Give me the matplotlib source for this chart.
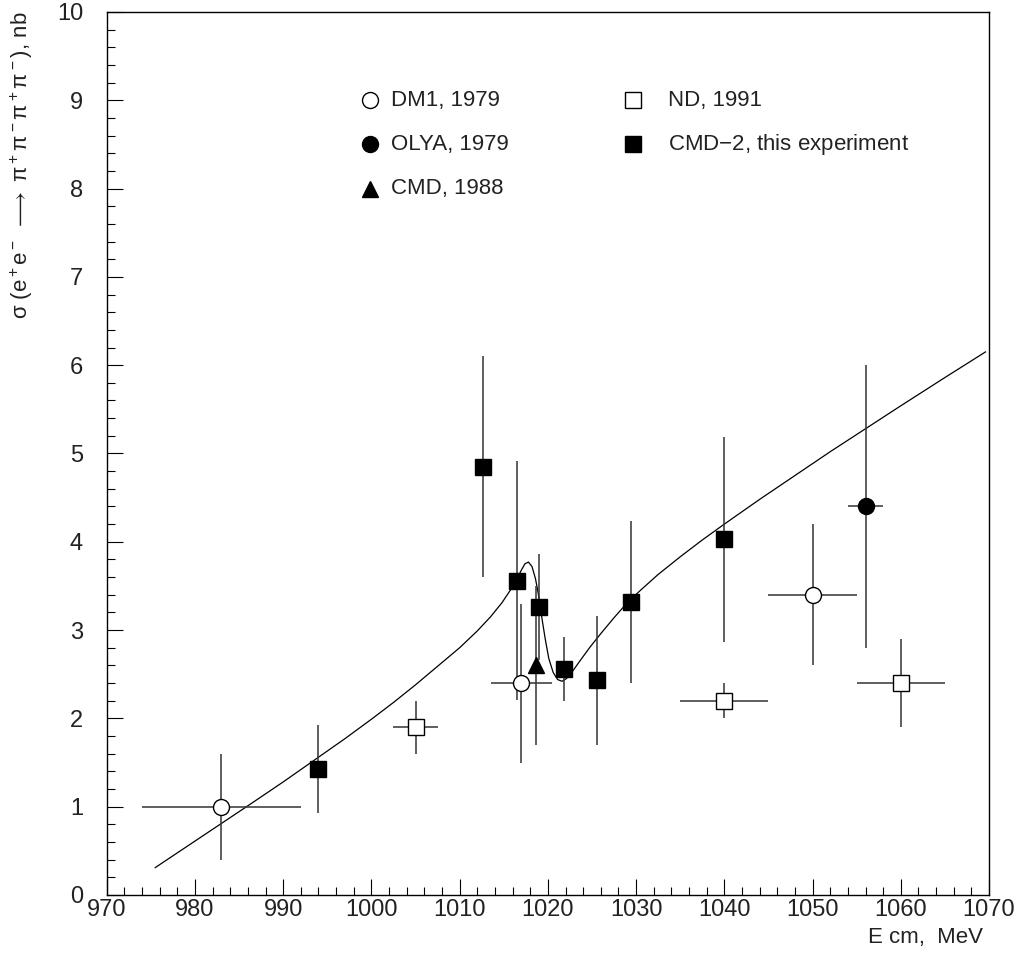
import matplotlib
matplotlib.use('Agg')
import matplotlib.pyplot as plt
import numpy as np
from matplotlib.ticker import MultipleLocator

plt.rcParams['font.family'] = ['Liberation Sans', 'DejaVu Sans']
plt.rcParams['mathtext.fontset'] = 'custom'
plt.rcParams['mathtext.rm'] = 'Liberation Sans'
plt.rcParams['mathtext.it'] = 'Liberation Sans'
plt.rcParams['mathtext.sf'] = 'Liberation Sans'

# DM1, 1979
dm1_E = [983, 1017, 1050]
dm1_sig = [1.0, 2.4, 3.4]
dm1_dE = [9, 3.5, 5]
dm1_dsig = [0.6, 0.9, 0.8]

# OLYA, 1979
olya_E = [1056]
olya_sig = [4.4]
olya_dE = [2]
olya_dsig = [1.6]

# CMD, 1988
cmd_E = [1018.6]
cmd_sig = [2.6]
cmd_dsig = [0.9]

# ND, 1991
nd_E = [1005, 1040, 1060]
nd_sig = [1.9, 2.2, 2.4]
nd_dE = [2.5, 5, 5]
nd_dsig = [0.3, 0.2, 0.5]

# CMD-2
cmd2_E = [994.0, 1012.65, 1016.5, 1019.0, 1021.8, 1025.6, 1029.4, 1040.0]
cmd2_sig = [1.43, 4.85, 3.56, 3.26, 2.56, 2.43, 3.32, 4.03]
cmd2_dsig = [0.5, 1.25, 1.35, 0.6, 0.36, 0.73, 0.92, 1.16]

# fit curve
fit_E = [975.5, 980, 983, 986, 990, 994, 997, 1000, 1002.5, 1005, 1007.5,
         1010, 1012, 1013.5, 1014.8, 1015.8, 1016.5, 1017.0, 1017.4, 1017.8,
         1018.2, 1018.6, 1018.9, 1019.3, 1019.7, 1020.1, 1020.6, 1021.1,
         1021.6, 1022.1, 1022.7, 1023.7, 1024.8, 1026, 1027.5, 1029, 1030.6,
         1032.5, 1035, 1037.5, 1040, 1044, 1048, 1052, 1056, 1060, 1065, 1069.6]
fit_sig = [0.31, 0.61, 0.81, 1.01, 1.28, 1.56, 1.77, 1.99, 2.18, 2.38, 2.59,
           2.80, 2.99, 3.15, 3.31, 3.46, 3.58, 3.68, 3.75, 3.77,
           3.72, 3.58, 3.42, 3.15, 2.90, 2.68, 2.52, 2.44,
           2.42, 2.45, 2.52, 2.66, 2.81, 2.96, 3.14, 3.31, 3.46,
           3.63, 3.83, 4.02, 4.20, 4.48, 4.75, 5.02, 5.28, 5.54, 5.86, 6.15]

fig = plt.figure(figsize=(10.23, 9.64), dpi=100)
ax = fig.add_axes([0.1043, 0.0716, 0.8625, 0.916])

ebar = dict(fmt='none', ecolor='#333333', elinewidth=1.1, capsize=0, zorder=2)
ms = 11.5

ax.plot(fit_E, fit_sig, color='black', lw=0.9, zorder=1)

ax.errorbar(dm1_E, dm1_sig, xerr=dm1_dE, yerr=dm1_dsig, **ebar)
ax.errorbar(olya_E, olya_sig, xerr=olya_dE, yerr=olya_dsig, **ebar)
ax.errorbar(cmd_E, cmd_sig, yerr=cmd_dsig, **ebar)
ax.errorbar(nd_E, nd_sig, xerr=nd_dE, yerr=nd_dsig, **ebar)
ax.errorbar(cmd2_E, cmd2_sig, yerr=cmd2_dsig, **ebar)

ax.plot(dm1_E, dm1_sig, 'o', ms=ms, mfc='white', mec='black', mew=1.0, zorder=3)
ax.plot(olya_E, olya_sig, 'o', ms=ms, mfc='black', mec='black', zorder=3)
ax.plot(cmd_E, cmd_sig, '^', ms=ms, mfc='black', mec='black', zorder=3)
ax.plot(nd_E, nd_sig, 's', ms=ms, mfc='white', mec='black', mew=1.0, zorder=3)
ax.plot(cmd2_E, cmd2_sig, 's', ms=ms, mfc='black', mec='black', zorder=3)

# legend drawn by hand, two columns
leg = [(999.8, 9.0, 'o', 'white', 'DM1, 1979'),
       (999.8, 8.5, 'o', 'black', 'OLYA, 1979'),
       (999.8, 8.0, '^', 'black', 'CMD, 1988'),
       (1029.6, 9.0, 's', 'white', 'ND, 1991'),
       (1029.6, 8.5, 's', 'black', 'CMD$-$2, this experiment')]
for xm, ym, m, fc, txt in leg:
    ax.plot([xm], [ym], m, ms=11.5, mfc=fc, mec='black', mew=1.0)
    ax.text(xm + 2.4 if xm < 1010 else xm + 4.0, ym, txt, fontsize=16,
            va='center', ha='left', color='#222222')

ax.set_xlim(970, 1070)
ax.set_ylim(0, 10)
ax.xaxis.set_major_locator(MultipleLocator(10))
ax.xaxis.set_minor_locator(MultipleLocator(2))
ax.yaxis.set_major_locator(MultipleLocator(1))
ax.yaxis.set_minor_locator(MultipleLocator(0.2))
ax.tick_params(which='both', direction='in', top=False, right=False, width=0.8,
               labelsize=17, labelcolor='#222222')
ax.tick_params(which='major', length=11.5)
ax.tick_params(which='minor', length=5.8)
ax.tick_params(axis='x', pad=3)
ax.tick_params(axis='y', pad=17)
for s in ax.spines.values():
    s.set_linewidth(1.0)

ax.text(-0.096, 1.0, r'$\sigma$ (e$^+$e$^-$ $\longrightarrow$ $\pi^+\pi^-\pi^+\pi^-$), nb',
        transform=ax.transAxes, rotation=90, ha='center', va='top',
        fontsize=16, color='#222222')
ax.text(0.993, -0.0487, 'E cm,  MeV', transform=ax.transAxes, ha='right',
        va='center', fontsize=16, color='#222222')

fig.savefig('out.png', dpi=100)
